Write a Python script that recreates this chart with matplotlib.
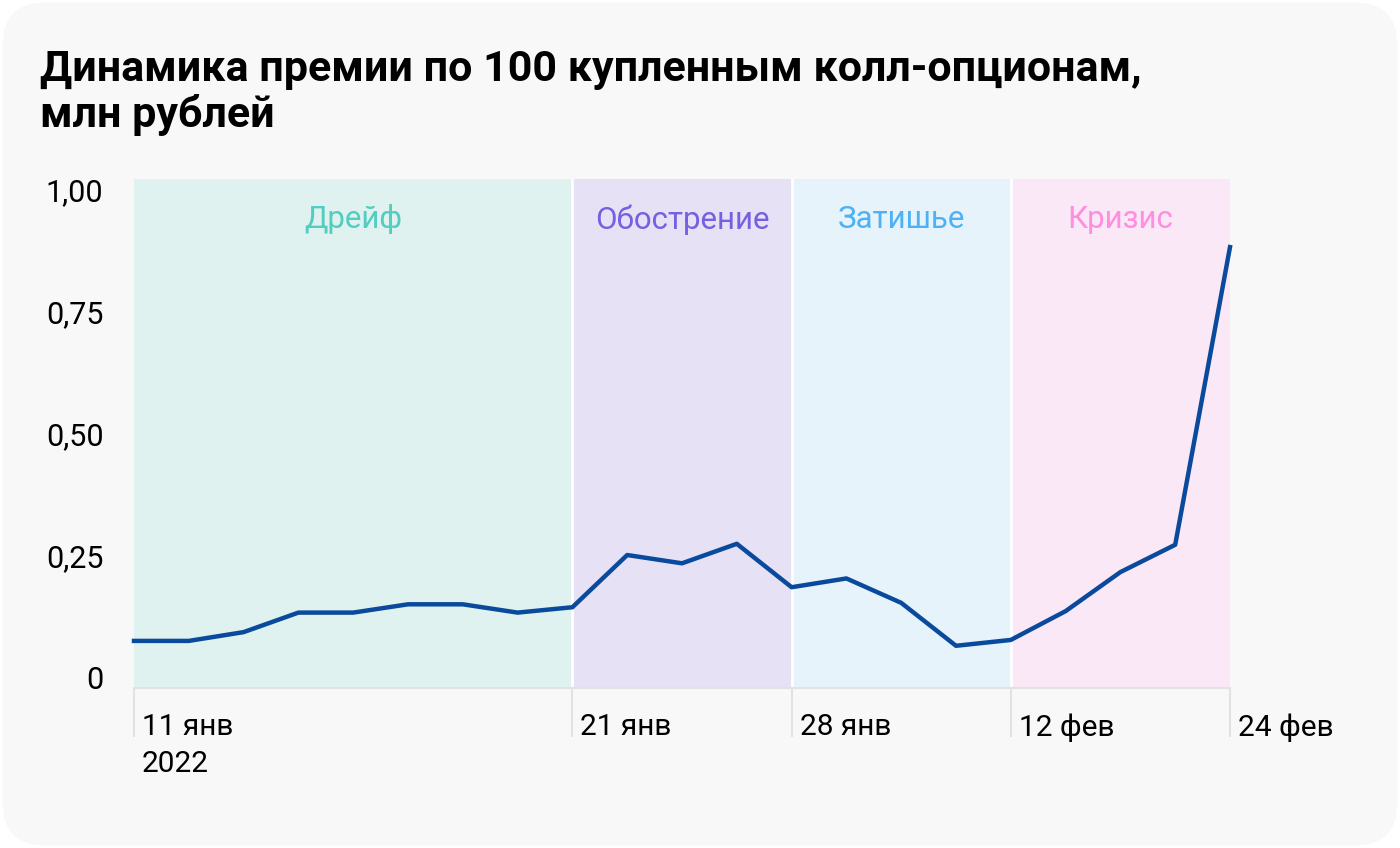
import matplotlib.pyplot as plt
from matplotlib.patches import FancyBboxPatch
from matplotlib import transforms

plt.rcParams['font.family'] = ['Roboto', 'DejaVu Sans']

# premium for 100 call options, mln rub, one point per trading day
premium = [0.076, 0.076, 0.094, 0.134, 0.134, 0.151, 0.151, 0.134, 0.145,
           0.252, 0.235, 0.275,
           0.186, 0.204, 0.154, 0.066,
           0.078, 0.137, 0.217, 0.273, 0.883]
days = list(range(len(premium)))

tick_pos = [0, 8, 12, 16, 20]
tick_labels = ['11 янв\n2022', '21 янв', '28 янв', '12 фев', '24 фев']

phases = ['Дрейф', 'Обострение', 'Затишье', 'Кризис']
phase_bounds = [(0, 8), (8, 12), (12, 16), (16, 20)]
phase_fill = ['#e0f2f0', '#e6e1f5', '#e7f3fa', '#fae8f6']
phase_text = ['#52cdbf', '#7460e0', '#4db2f5', '#ff8de0']

y_ticks = [0, 0.25, 0.5, 0.75, 1.0]
y_labels = ['0', '0,25', '0,50', '0,75', '1,00']

fig = plt.figure(figsize=(14, 8.48), dpi=100)
fig.patch.set_facecolor('white')
card = FancyBboxPatch((0.002, 0.003), 0.996, 0.994,
                      boxstyle='round,pad=0,rounding_size=0.03',
                      transform=fig.transFigure, facecolor='#f8f8f8',
                      edgecolor='none', zorder=-10, mutation_aspect=1400/848)
fig.patches.append(card)

fig.text(40/1400, 1 - 49/848,
         'Динамика премии по 100 купленным колл-опционам,\nмлн рублей',
         fontsize=31, fontweight='bold', va='top', ha='left',
         linespacing=1.12, color='black')

ax = fig.add_axes([134/1400, 1 - 688/848, 1096/1400, 509/848])
ax.set_facecolor('none')
ax.set_xlim(0, 20)
ax.set_ylim(-0.0205, 1.0225)

for (a, b), fc, tc, name in zip(phase_bounds, phase_fill, phase_text, phases):
    ax.axvspan(a, b, color=fc, lw=0, zorder=0)
    ax.text((a + b) / 2, 0.94, name, color=tc, fontsize=22.5,
            ha='center', va='center', zorder=2)
for a, b in phase_bounds[1:]:
    ax.axvline(a, color='white', lw=2, zorder=1)

ax.plot(days, premium, color='#0a4a9c', lw=3.2, zorder=3,
        solid_joinstyle='round', clip_on=False)

for s in ['top', 'right', 'left']:
    ax.spines[s].set_visible(False)
ax.spines['bottom'].set_color('#e2e2e2')
ax.spines['bottom'].set_linewidth(1.5)

ax.set_yticks(y_ticks)
ax.set_yticklabels(y_labels, fontsize=22)
ax.tick_params(axis='y', length=0, pad=22)

ax.set_xticks(tick_pos)
ax.set_xticklabels([])
ax.set_xticks([0], minor=True)
ax.tick_params(axis='x', which='major', direction='out', length=35,
               width=1.5, color='#e2e2e2')
ax.tick_params(axis='x', which='minor', direction='out', length=65,
               width=1.5, color='#e2e2e2')

base = transforms.blended_transform_factory(ax.transData, ax.transAxes)
for pos, lab in zip(tick_pos, tick_labels):
    tr = transforms.offset_copy(base, fig=fig, x=8, y=-25, units='dots')
    ax.text(pos, 0, lab, transform=tr, fontsize=21.5, ha='left', va='top',
            linespacing=1.4, color='black')

fig.savefig('out.png', dpi=100, facecolor=fig.get_facecolor())
